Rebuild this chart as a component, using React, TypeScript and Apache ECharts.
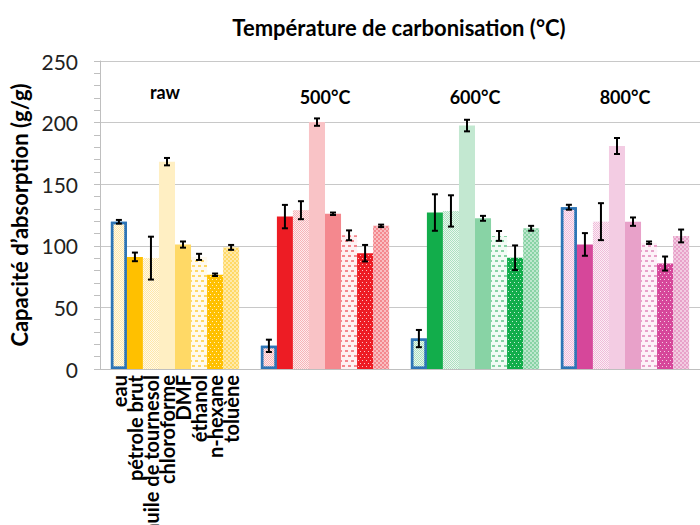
import React, { useEffect, useRef } from "react";
import * as echarts from "echarts";

const groups = ["raw", "500°C", "600°C", "800°C"];
const solvents = [
  "eau",
  "pétrole brut",
  "huile de tournesol",
  "chloroforme",
  "DMF",
  "éthanol",
  "n-hexane",
  "toluène",
];

// values per solvent, in group order raw, 500, 600, 800
const eau = [119.5, 18.8, 24.7, 131.3];
const petrole = [91, 123.7, 127, 101.1];
const huile = [90, 128.9, 128.3, 119.6];
const chloroforme = [168.3, 200.4, 197.6, 181];
const dmf = [101, 126, 122.3, 119.6];
const ethanol = [91, 108.5, 108, 102.5];
const hexane = [76.5, 94, 90.3, 85.6];
const toluene = [98.7, 116.2, 114.2, 108];
const values = [eau, petrole, huile, chloroforme, dmf, ethanol, hexane, toluene];

// error (± half length)
const eauErr = [1.5, 5, 7, 2];
const petroleErr = [3.5, 9.5, 14.8, 9.2];
const huileErr = [17.4, 7.3, 12.7, 15];
const chloroformeErr = [3, 3, 4.7, 6.5];
const dmfErr = [2.5, 1, 2, 3.4];
const ethanolErr = [2.5, 4, 4, 1];
const hexaneErr = [1, 6.7, 10, 5.7];
const tolueneErr = [2, 1, 2, 5.2];
const errors = [eauErr, petroleErr, huileErr, chloroformeErr, dmfErr, ethanolErr, hexaneErr, tolueneErr];

const yTicks = [0, 50, 100, 150, 200, 250];

// palettes per group
const darkColors = ["#FFC000", "#ED1C24", "#12AD4B", "#D6479A"];
const midColors = ["#FFD966", "#F4888E", "#88D3A5", "#E8A1C9"];
const lightColors = ["#FFEFC3", "#F9C3C6", "#C3E8D1", "#F3CCE3"];
const tintColors = ["#FFE7A8", "#F7B3B7", "#ACE0C0", "#F0BBD9"];
const paleColors = ["#FFFAEE", "#FEF2F3", "#F2FBF5", "#FDF2F8"];

const FONT = "Lato";
const CAT_GAP = 0.145;

function itemStyleFor(s: number, g: number): any {
  const fineChecker = {
    symbol: "rect",
    symbolSize: 1,
    color: "rgba(255,255,255,0.75)",
    dashArrayX: [[1, 1], [0, 1, 1, 0]],
    dashArrayY: [1, 0],
  };
  switch (s) {
    case 0:
      return { color: tintColors[g], decal: fineChecker, borderColor: "#2E75B6", borderWidth: 2.5 };
    case 1:
      return { color: darkColors[g] };
    case 2:
      return { color: tintColors[g], decal: fineChecker };
    case 3:
      return { color: lightColors[g] };
    case 4:
      return { color: midColors[g] };
    case 5:
      return {
        color: paleColors[g],
        decal: {
          symbol: "rect",
          symbolSize: 1,
          color: midColors[g],
          dashArrayX: [[3, 3], [0, 3, 3, 0]],
          dashArrayY: [2, 3],
        },
      };
    case 6:
      return {
        color: darkColors[g],
        decal: {
          symbol: "rect",
          symbolSize: 1,
          color: lightColors[g],
          dashArrayX: [[1, 3], [0, 2, 1, 1]],
          dashArrayY: [1, 2],
        },
      };
    default:
      return {
        color: midColors[g],
        decal: {
          symbol: "rect",
          symbolSize: 1,
          color: "rgba(255,255,255,0.45)",
          dashArrayX: [[2, 2], [0, 2, 2, 0]],
          dashArrayY: [2, 0],
        },
      };
  }
}

export default function App() {
  const ref = useRef<HTMLDivElement>(null);
  useEffect(() => {
    if (!ref.current) return;
    document.body.style.margin = "0";
    const chart = echarts.init(ref.current, null, { renderer: "svg" });

    const barSeries = solvents.map((name, s) => ({
      type: "bar",
      name,
      xAxisIndex: 0,
      barGap: 0,
      barCategoryGap: CAT_GAP * 100 + "%",
      label: {
        show: false,
        position: "bottom",
        rotate: 90,
        align: "right",
        verticalAlign: "middle",
        distance: 6,
        formatter: "{a}",
        fontFamily: FONT,
        fontSize: 20,
        fontWeight: "bold",
        color: "#000",
      },
      data: groups.map((_, g) => ({
        value: values[s][g],
        itemStyle: itemStyleFor(s, g),
        label: g === 0 ? { show: true } : { show: false },
      })),
    }));

    const errData: number[][] = [];
    solvents.forEach((_, s) => {
      groups.forEach((__, g) => {
        errData.push([g, values[s][g], errors[s][g], s]);
      });
    });

    const errorSeries = {
      type: "custom",
      xAxisIndex: 0,
      z: 10,
      encode: { x: 0, y: 1 },
      data: errData,
      renderItem: (params: any, api: any) => {
        const g = api.value(0);
        const v = api.value(1);
        const e = api.value(2);
        const s = api.value(3);
        const band = api.size([1, 0])[0];
        const inner = band * (1 - CAT_GAP);
        const bw = inner / solvents.length;
        const c = api.coord([g, v]);
        const x = c[0] - inner / 2 + bw * (s + 0.5);
        const yTop = api.coord([g, v + e])[1];
        const yBot = api.coord([g, v - e])[1];
        const cap = 3;
        const style = { stroke: "#000", lineWidth: 2 };
        return {
          type: "group",
          children: [
            { type: "line", shape: { x1: x, y1: yTop, x2: x, y2: yBot }, style },
            { type: "line", shape: { x1: x - cap, y1: yTop, x2: x + cap, y2: yTop }, style },
            { type: "line", shape: { x1: x - cap, y1: yBot, x2: x + cap, y2: yBot }, style },
          ],
        };
      },
    };

    chart.setOption({
      animation: false,
      backgroundColor: "#fff",
      textStyle: { fontFamily: FONT },
      grid: { left: 100, top: 61, bottom: 156, right: -8, containLabel: false },
      graphic: [
        {
          type: "text",
          x: 399,
          y: 27,
          style: {
            text: "Température de carbonisation (°C)",
            fontFamily: FONT,
            fontSize: 22,
            fontWeight: "bold",
            fill: "#000",
            textAlign: "center",
            textVerticalAlign: "middle",
          },
        },
      ],
      xAxis: [
        {
          type: "category",
          data: groups,
          position: "bottom",
          axisLine: { show: true, lineStyle: { color: "#BFBFBF", width: 1 } },
          axisTick: { show: false },
          axisLabel: { show: false },
          splitLine: { show: false },
        },
        {
          type: "category",
          data: groups,
          position: "top",
          axisLine: { show: false },
          axisTick: { show: false },
          splitLine: { show: false },
          axisLabel: {
            show: true,
            inside: true,
            margin: 36,
            verticalAlign: "middle",
            fontFamily: FONT,
            fontSize: 18,
            fontWeight: "bold",
            color: "#000",
            formatter: (val: string) => (val === groups[0] ? "{r|" + val + "}" : val),
            rich: {
              r: {
                fontFamily: FONT,
                fontSize: 18,
                fontWeight: "bold",
                color: "#000",
                padding: [0, 20, 10, 0],
              },
            },
          },
        },
      ],
      yAxis: {
        type: "value",
        min: yTicks[0],
        max: yTicks[yTicks.length - 1],
        interval: yTicks[1] - yTicks[0],
        name: "Capacité d’absorption (g/g)",
        nameLocation: "middle",
        nameGap: 56,
        nameTextStyle: { fontFamily: FONT, fontSize: 22, fontWeight: "bold", color: "#000" },
        axisLine: { show: true, lineStyle: { color: "#BFBFBF", width: 1 } },
        axisTick: { show: true, length: 6, lineStyle: { color: "#BFBFBF" } },
        minorTick: { show: true, splitNumber: 5, length: 6, lineStyle: { color: "#BFBFBF" } },
        axisLabel: { fontFamily: FONT, fontSize: 21, color: "#222", margin: 22 },
        splitLine: { show: true, lineStyle: { color: "#C8C8C8", width: 1 } },
      },
      series: [...barSeries, errorSeries],
    } as any);

    return () => chart.dispose();
  }, []);

  return <div ref={ref} style={{ width: 700, height: 525 }} />;
}
